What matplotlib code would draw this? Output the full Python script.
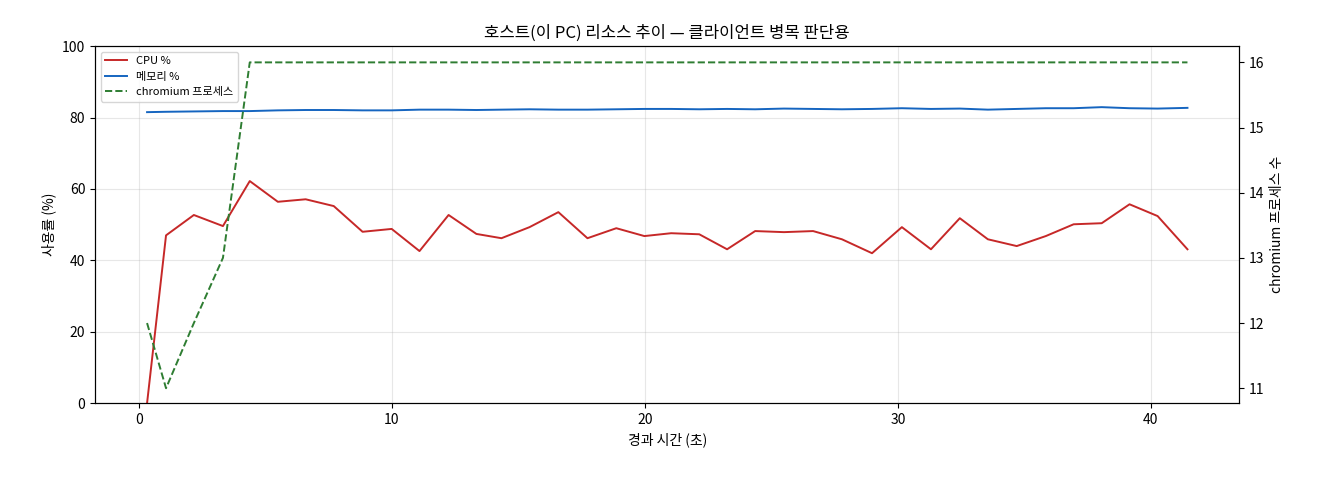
import matplotlib
matplotlib.use("Agg")
import matplotlib.pyplot as plt

plt.rcParams['font.family'] = ['Noto Sans CJK KR', 'DejaVu Sans']
plt.rcParams['axes.unicode_minus'] = False

px = [145,164,192,221,248,276,304,332,361,390,418,447,475,500,528,557,586,615,643,670,698,726,754,783,812,841,871,901,930,959,987,1016,1045,1073,1101,1129,1157,1187]
t = [round((p-137)/25.33, 2) for p in px]
cpu = [0,47,52.7,49.6,62.2,56.4,57.1,55.2,48,48.8,42.6,52.7,47.4,46.2,49.3,53.5,46.2,49,46.8,47.6,47.3,43.1,48.2,47.9,48.2,45.9,42,49.3,43.1,51.8,45.9,44,46.8,50.1,50.4,55.7,52.4,43.1]
mem = [81.5,81.6,81.7,81.8,81.8,82.0,82.1,82.1,82.0,82.0,82.2,82.2,82.1,82.2,82.3,82.2,82.2,82.3,82.4,82.4,82.3,82.4,82.3,82.5,82.4,82.3,82.4,82.6,82.4,82.5,82.2,82.4,82.6,82.6,82.9,82.6,82.5,82.7]
procs = [12,11,12,13,16] + [16]*33

fig, ax = plt.subplots(figsize=(13.2, 4.8), dpi=100)
l1, = ax.plot(t, cpu, color='#c62828', lw=1.4, label='CPU %')
l2, = ax.plot(t, mem, color='#1565c0', lw=1.4, label='메모리 %')
ax.set_ylim(0, 100)
ax.set_xlabel('경과 시간 (초)')
ax.set_ylabel('사용률 (%)')
ax.grid(True, alpha=0.3)
ax2 = ax.twinx()
l3, = ax2.plot(t, procs, color='#2e7d32', lw=1.4, ls='--', label='chromium 프로세스')
ax2.set_ylim(10.77, 16.25)
ax2.set_ylabel('chromium 프로세스 수')
ax.set_title('호스트(이 PC) 리소스 추이 — 클라이언트 병목 판단용')
ax.legend(handles=[l1, l2, l3], loc='upper left', fontsize=8)
fig.subplots_adjust(left=0.072, right=0.939, top=0.904, bottom=0.16)
fig.savefig('out.png')
